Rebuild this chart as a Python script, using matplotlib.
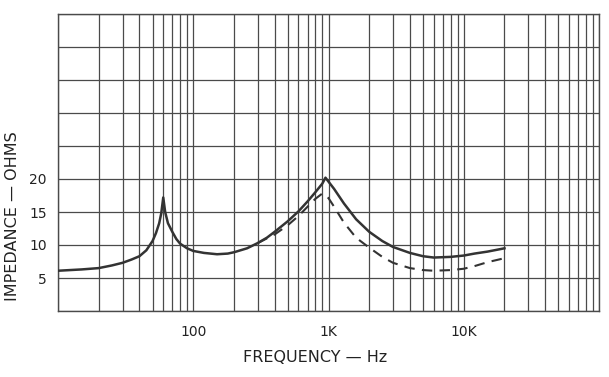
import matplotlib
matplotlib.use("Agg")
import matplotlib.pyplot as plt
from matplotlib.ticker import LogLocator, FixedLocator, NullFormatter, FixedFormatter

# Data
freq_solid = [10, 15, 20, 25, 30, 35, 40, 45, 50, 53, 56, 58, 60, 62, 65, 70, 75, 80, 90,
              100, 120, 150, 180, 200, 250, 300, 350, 400, 500, 600, 700, 800, 900, 950,
              1000, 1100, 1300, 1600, 2000, 2500, 3000, 4000, 5000, 6000, 8000, 10000,
              12000, 15000, 20000]
z_solid = [6.1, 6.3, 6.5, 6.9, 7.3, 7.8, 8.3, 9.2, 10.6, 11.8, 13.3, 14.8, 17.2, 15.0,
           13.3, 12.0, 10.9, 10.2, 9.5, 9.1, 8.8, 8.6, 8.7, 8.9, 9.5, 10.3, 11.1, 12.0,
           13.6, 15.1, 16.6, 18.0, 19.3, 20.2, 19.6, 18.5, 16.3, 13.9, 12.0, 10.6, 9.7,
           8.8, 8.3, 8.1, 8.2, 8.4, 8.7, 9.0, 9.5]

freq_dashed = [300, 350, 400, 500, 600, 700, 800, 900, 1000, 1100, 1300, 1600, 2000,
               2500, 3000, 4000, 5000, 6000, 8000, 10000, 12000, 15000, 20000]
z_dashed = [10.3, 11.0, 11.6, 13.0, 14.4, 15.8, 17.0, 17.8, 17.1, 15.8, 13.4, 11.1, 9.6,
            8.2, 7.3, 6.5, 6.2, 6.1, 6.2, 6.4, 6.8, 7.4, 8.0]

xtick_vals = [100, 1000, 10000]
xtick_labels = ["100", "1K", "10K"]
ytick_vals = [5, 10, 15, 20]
ytick_labels = ["5", "10", "15", "20"]

fig = plt.figure(figsize=(6.09, 3.77), dpi=100)
ax = fig.add_axes([58/609, 1-311/377, (599-58)/609, (311-14)/377])

grid_color = "#4a4a4a"
ax.set_xscale("log")
ax.set_xlim(10, 100000)
ax.set_ylim(0, 45)

ax.xaxis.set_major_locator(FixedLocator(xtick_vals))
ax.xaxis.set_major_formatter(FixedFormatter(xtick_labels))
ax.xaxis.set_minor_locator(LogLocator(base=10, subs=range(1, 10), numticks=50))
ax.xaxis.set_minor_formatter(NullFormatter())
ax.grid(True, which="both", axis="x", color=grid_color, linewidth=0.9)

ax.yaxis.set_major_locator(FixedLocator(ytick_vals))
ax.yaxis.set_major_formatter(FixedFormatter(ytick_labels))
ax.yaxis.set_minor_locator(FixedLocator(list(range(0, 46, 5))))
ax.grid(True, which="both", axis="y", color=grid_color, linewidth=0.9)

ax.tick_params(which="both", length=0)
ax.tick_params(axis="x", pad=10, labelsize=10, colors="#222222")
ax.tick_params(axis="y", pad=8, labelsize=10, colors="#222222")
for s in ax.spines.values():
    s.set_color(grid_color)
    s.set_linewidth(1.0)

ax.plot(freq_solid, z_solid, color="#333333", linewidth=1.8, solid_joinstyle="round", zorder=3)
ax.plot(freq_dashed, z_dashed, color="#333333", linewidth=1.5, dashes=(5, 3.5), zorder=3)

fig.text(315/609, 1-357/377, "FREQUENCY \u2014 Hz", ha="center", va="center",
         fontsize=11.5, color="#222222")
fig.text(13/609, 1-216/377, "IMPEDANCE \u2014 OHMS", ha="center", va="center",
         rotation=90, fontsize=11.5, color="#222222")

fig.savefig("out.png", dpi=100, facecolor="white")
